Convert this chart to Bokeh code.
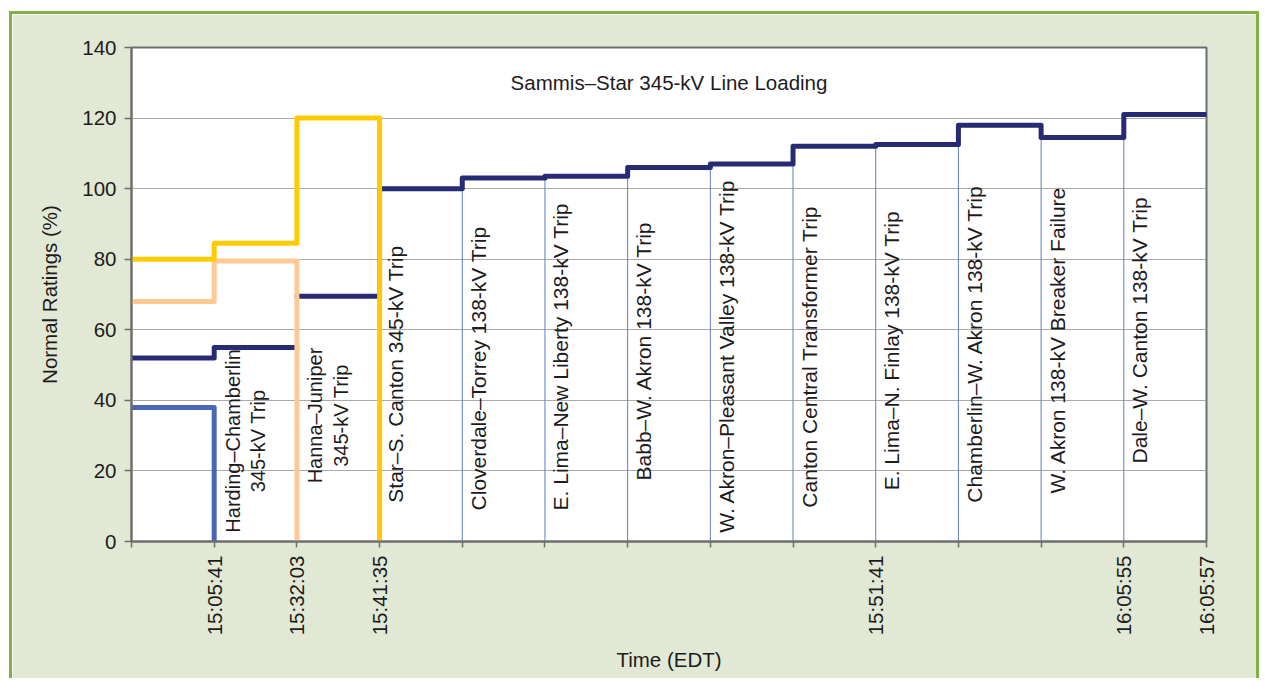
import math

from bokeh.embed import file_html
from bokeh.models import FixedTicker, Label, Range1d
from bokeh.plotting import figure
from bokeh.resources import INLINE

# Event sequence on the time axis (one slot per switching event)
event_times = ["", "15:05:41", "15:32:03", "15:41:35", "", "", "", "", "",
               "15:51:41", "", "", "16:05:55", "16:05:57"]

# Loading in % of normal rating, one value per interval between events
sammis_star = [52, 55, 69.5, 100, 103, 103.5, 106, 107, 112, 112.5, 118, 114.5, 121]
harding_chamberlin = [38]
hanna_juniper = [68, 79.5]
star_s_canton = [80, 84.5, 120]

y_ticks = [0, 20, 40, 60, 80, 100, 120, 140]

event_names = [
    "Harding\u2013Chamberlin\n345-kV Trip",
    "Hanna\u2013Juniper\n345-kV Trip",
    "Star\u2013S. Canton 345-kV Trip",
    "Cloverdale\u2013Torrey 138-kV Trip",
    "E. Lima\u2013New Liberty 138-kV Trip",
    "Babb\u2013W. Akron 138-kV Trip",
    "W. Akron\u2013Pleasant Valley 138-kV Trip",
    "Canton Central Transformer Trip",
    "E. Lima\u2013N. Finlay 138-kV Trip",
    "Chamberlin\u2013W. Akron 138-kV Trip",
    "W. Akron 138-kV Breaker Failure",
    "Dale\u2013W. Canton 138-kV Trip",
    "Sammis\u2013Star 345-kV Trip",
]

# where each event caption sits along the vertical axis (start of text,
# or middle of the block for the two-line captions)
caption_y = [28.5, 35.7, 11.0, 8.8, 8.8, 17.3, 2.5, 9.6, 14.5, 11.0, 13.6, 22.1, 24.4]

FONT = "Liberation Sans"
INK = "#1e1b1c"
FRAME = "#6e6e6e"
NAVY = "#262b73"
BLUE = "#4a67b3"
PEACH = "#fdca96"
GOLD = "#fecb00"
MARKER = "#5b7fc7"
PANEL = "#e1e9d5"
EDGE = "#82b245"


def step_path(values, start=0, drop=False):
    xs, ys = [], []
    for i, v in enumerate(values):
        xs += [start + i, start + i + 1]
        ys += [v, v]
    if drop:
        xs.append(start + len(values))
        ys.append(0)
    return xs, ys


n_events = len(event_times) - 1

p = figure(
    width=1250, height=667,
    x_range=Range1d(0, n_events), y_range=Range1d(0, 140),
    output_backend="svg", toolbar_location=None,
    min_border_left=119, min_border_right=56,
    min_border_top=33, min_border_bottom=140,
    background_fill_color="white", border_fill_color=PANEL,
)
p.margin = (11, 0, 0, 9)
p.styles = {
    "border-top": f"3px solid {EDGE}",
    "border-left": f"3px solid {EDGE}",
    "border-right": f"3px solid {EDGE}",
}
p.outline_line_color = FRAME
p.outline_line_width = 2

# axes
p.xaxis.ticker = FixedTicker(ticks=list(range(len(event_times))))
p.xaxis.major_label_overrides = {i: t for i, t in enumerate(event_times)}
p.xaxis.major_label_orientation = math.pi / 2
p.yaxis.ticker = FixedTicker(ticks=y_ticks)
for ax in (p.xaxis, p.yaxis):
    ax.axis_line_color = FRAME
    ax.axis_line_width = 2
    ax.major_tick_line_color = FRAME
    ax.major_tick_line_width = 1.5
    ax.major_tick_in = 0
    ax.minor_tick_line_color = None
    ax.major_label_text_font = FONT
    ax.major_label_text_font_size = "20.5px"
    ax.major_label_text_color = INK
    ax.axis_label_text_font = FONT
    ax.axis_label_text_font_size = "20.5px"
    ax.axis_label_text_font_style = "normal"
    ax.axis_label_text_color = INK
p.xaxis.major_tick_out = 6
p.yaxis.major_tick_out = 7
p.xaxis.major_label_standoff = 8
p.yaxis.major_label_standoff = 8
p.xaxis.axis_label = "Time (EDT)"
p.yaxis.axis_label = "Normal Ratings (%)"
p.xaxis.axis_label_standoff = 10
p.yaxis.axis_label_standoff = 18
p.xgrid.visible = False
p.ygrid.grid_line_color = "#a9a9a9"
p.ygrid.grid_line_width = 1

# thin event markers rising to the Sammis-Star level
mx, my = [], []
for i in range(3, n_events):
    mx.append(i)
    my.append(max(sammis_star[i - 1], sammis_star[i]))
p.segment(x0=mx, y0=[0] * len(mx), x1=mx, y1=my, line_color=MARKER, line_width=1)

# Sammis-Star loading (two pieces joined by a thin riser at the third event)
xs, ys = step_path(sammis_star[:2])
p.line(xs, ys, line_color=NAVY, line_width=5, line_join="round", line_cap="round")
xs, ys = step_path(sammis_star[2:], start=2)
p.line(xs, ys, line_color=NAVY, line_width=5, line_join="round", line_cap="round")
p.segment(x0=[2], y0=[sammis_star[1]], x1=[2], y1=[sammis_star[2]],
          line_color="#8f8f9f", line_width=1)

for vals, col in ((harding_chamberlin, BLUE), (hanna_juniper, PEACH), (star_s_canton, GOLD)):
    xs, ys = step_path(vals, drop=True)
    p.line(xs, ys, line_color=col, line_width=5, line_join="round", line_cap="round")

# chart caption inside the frame
p.add_layout(Label(
    x=n_events / 2, y=130, text="Sammis\u2013Star 345-kV Line Loading",
    text_align="center", text_baseline="middle",
    text_font=FONT, text_font_size="20.5px", text_color=INK,
))

# event captions
for k, (name, cy) in enumerate(zip(event_names, caption_y)):
    two_line = "\n" in name
    p.add_layout(Label(
        x=k + 1, y=cy, text=name, angle=math.pi / 2,
        x_offset=31 if two_line else 16,
        text_align="center" if two_line else "left",
        text_baseline="middle",
        text_font=FONT, text_font_size="20px" if two_line else "21px",
        text_color=INK,
        text_line_height=1.15,
    ))

open("out.html", "w").write(file_html(p, INLINE))
